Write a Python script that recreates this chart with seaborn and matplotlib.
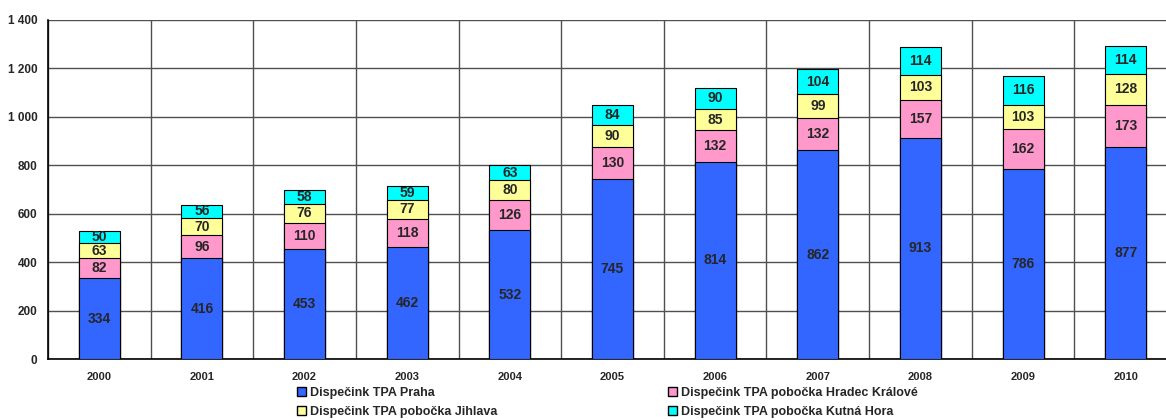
import numpy as np
import pandas as pd
import matplotlib
matplotlib.use("Agg")
import matplotlib.pyplot as plt
import seaborn as sns
from matplotlib.patches import Patch
from matplotlib.ticker import FuncFormatter

years = ["2000", "2001", "2002", "2003", "2004", "2005", "2006", "2007", "2008", "2009", "2010"]
praha = [334, 416, 453, 462, 532, 745, 814, 862, 913, 786, 877]
hradec = [82, 96, 110, 118, 126, 130, 132, 132, 157, 162, 173]
jihlava = [63, 70, 76, 77, 80, 90, 85, 99, 103, 103, 128]
kutna = [50, 56, 58, 59, 63, 84, 90, 104, 114, 116, 114]

series_names = ["Dispečink TPA Praha", "Dispečink TPA pobočka Hradec Králové",
                "Dispečink TPA pobočka Jihlava", "Dispečink TPA pobočka Kutná Hora"]
colors = ["#3366FF", "#FF99CC", "#FFFF99", "#00FFFF"]

sns.set_style("white")
plt.rcParams["font.family"] = ["Liberation Sans", "DejaVu Sans"]
plt.rcParams["font.weight"] = "bold"

layers = [praha, hradec, jihlava, kutna]
cum = np.cumsum(np.array(layers), axis=0)

fig = plt.figure(figsize=(11.66, 4.2), dpi=100)
ax = fig.add_axes([48 / 1166, 61 / 420, 1129 / 1166, 339 / 420])

# draw cumulative totals from the top layer down so each segment shows
for i in range(len(layers) - 1, -1, -1):
    df = pd.DataFrame({"year": years, "value": cum[i]})
    sns.barplot(data=df, x="year", y="value", color=colors[i], width=0.4,
                edgecolor="black", linewidth=0.8, saturation=1, ax=ax, zorder=3)

for i, vals in enumerate(layers):
    bottoms = cum[i] - np.array(vals)
    for x, (b, v) in enumerate(zip(bottoms, vals)):
        ax.text(x, b + v / 2, str(v), ha="center", va="center",
                fontsize=10, fontweight="bold", zorder=4)

ax.set_xlim(-0.5, 10.5)
ax.set_ylim(0, 1400)
ax.set_yticks(range(0, 1401, 200))
ax.yaxis.set_major_formatter(FuncFormatter(lambda v, p: f"{int(v):,}".replace(",", " ")))
ax.set_xlabel("")
ax.set_ylabel("")

ax.set_xticks(np.arange(-0.5, 10.6, 1), minor=True)
ax.tick_params(axis="x", which="major", length=0, pad=9, labelsize=8)
ax.tick_params(axis="x", which="minor", length=5, width=0.8, color="black", direction="out")
ax.tick_params(axis="y", length=4, width=0.8, color="black", direction="out", labelsize=8.5)
for lab in ax.get_xticklabels() + ax.get_yticklabels():
    lab.set_fontweight("bold")

ax.grid(axis="y", which="major", color="#505050", linewidth=1.0, zorder=0)
ax.grid(axis="x", which="minor", color="#505050", linewidth=1.0, zorder=0)
ax.set_axisbelow(True)

for side in ["top", "right"]:
    ax.spines[side].set_visible(False)
for side in ["left", "bottom"]:
    ax.spines[side].set_color("black")
    ax.spines[side].set_linewidth(1.2)

handles = [Patch(facecolor=colors[0], edgecolor="black", label=series_names[0]),
           Patch(facecolor=colors[2], edgecolor="black", label=series_names[2]),
           Patch(facecolor=colors[1], edgecolor="black", label=series_names[1]),
           Patch(facecolor=colors[3], edgecolor="black", label=series_names[3])]
fig.legend(handles=handles, ncol=2, loc="upper left", bbox_to_anchor=(297 / 1166, 33 / 420),
           frameon=False, prop={"size": 9, "weight": "bold"}, handlelength=0.7,
           handleheight=0.7, handletextpad=0.3, columnspacing=13.7, labelspacing=0.55,
           borderaxespad=0, borderpad=0)

fig.savefig("out.png", dpi=100)
